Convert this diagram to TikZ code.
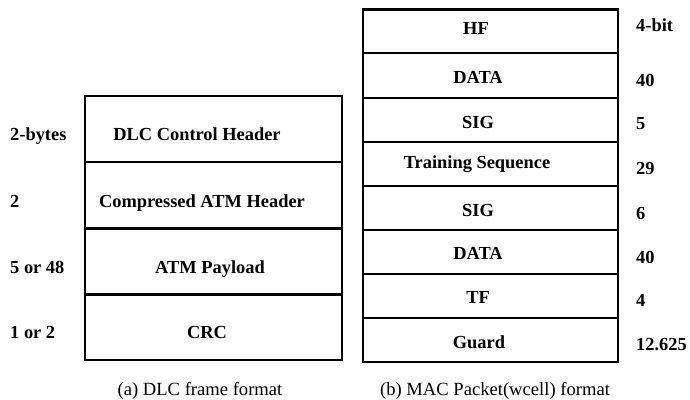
\documentclass[tikz,border=0pt]{standalone}
\usepackage{fontspec}
\setmainfont{Liberation Serif}
\begin{document}
\begin{tikzpicture}[x=1pt,y=-1pt,
  cell/.style={line width=2.6pt},
  fld/.style={font=\bfseries\fontsize{18.4}{22}\selectfont, inner sep=0pt, anchor=base},
  sz/.style={font=\bfseries\fontsize{18.4}{22}\selectfont, inner sep=0pt, anchor=base west},
  captext/.style={font=\fontsize{18.6}{22}\selectfont, inner sep=0pt, anchor=base}]
\useasboundingbox (0,0) rectangle (690,399);
% left stack (DLC frame)
\draw[cell] (85,96) rectangle (342,162);
\draw[cell] (85,162) rectangle (342,228.5);
\draw[cell] (85,228.5) rectangle (342,294.5);
\draw[cell] (85,294.5) rectangle (342,360);
\node[fld] (dlc) at (197,140) {DLC Control Header};
\node[fld] (catm) at (202,207) {Compressed ATM Header};
\node[fld] (pay) at (210,273) {ATM Payload};
\node[fld] (crc) at (207,338) {CRC};
\node[sz] (l1) at (10,140) {2-bytes};
\node[sz] (l2) at (10,207) {2};
\node[sz] (l3) at (10,273) {5 or 48};
\node[sz] (l4) at (10,338) {1 or 2};
% right stack (MAC packet)
\draw[cell] (363,9.5) rectangle (618,53);
\draw[cell] (363,53) rectangle (618,98);
\draw[cell] (363,98) rectangle (618,142);
\draw[cell] (363,142) rectangle (618,186);
\draw[cell] (363,186) rectangle (618,230);
\draw[cell] (363,230) rectangle (618,274);
\draw[cell] (363,274) rectangle (618,318);
\draw[cell] (363,318) rectangle (618,362);
\node[fld] (hf) at (476,34) {HF};
\node[fld] (d1) at (478,83) {DATA};
\node[fld] (s1) at (478,128) {SIG};
\node[fld] (ts) at (477,168) {Training Sequence};
\node[fld] (s2) at (478,216) {SIG};
\node[fld] (d2) at (478,259) {DATA};
\node[fld] (tf) at (478,303) {TF};
\node[fld] (gd) at (479,348) {Guard};
\node[sz] (r1) at (636,31) {4-bit};
\node[sz] (r2) at (636,86) {40};
\node[sz] (r3) at (636,129) {5};
\node[sz] (r4) at (636,174) {29};
\node[sz] (r5) at (636,219) {6};
\node[sz] (r6) at (636,263) {40};
\node[sz] (r7) at (636,306) {4};
\node[sz] (r8) at (636,350) {12.625};
% captions
\node[captext] (capa) at (200,395) {(a) DLC frame format};
\node[captext] (capb) at (495,395) {(b) MAC Packet(wcell) format};
\end{tikzpicture}
\end{document}
